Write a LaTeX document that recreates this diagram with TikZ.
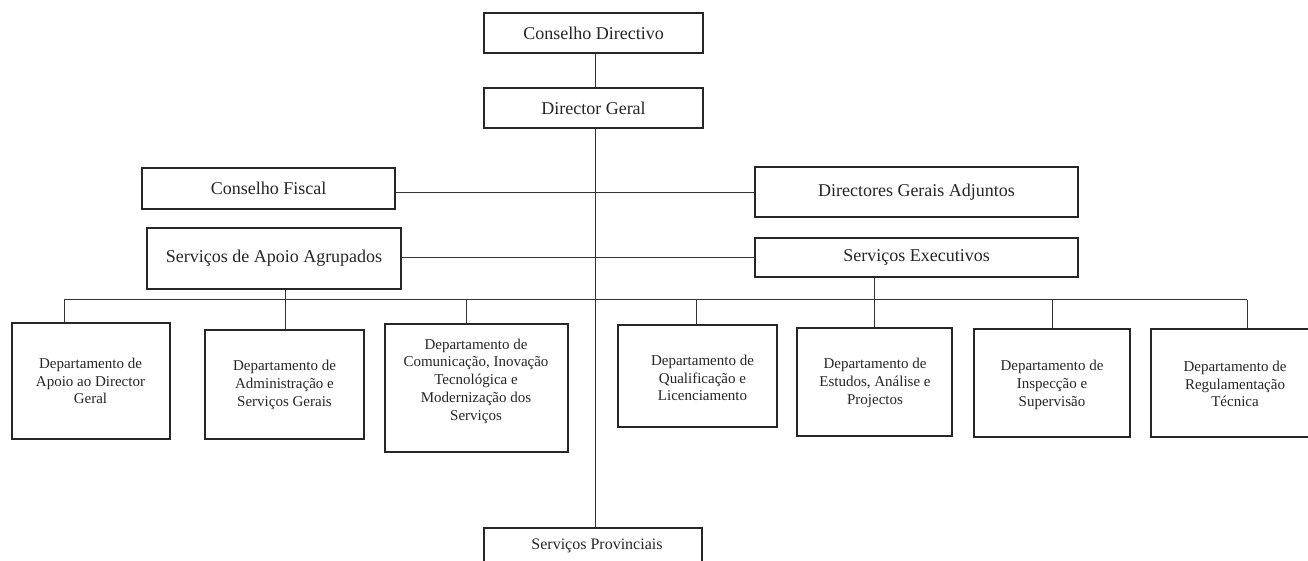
\documentclass[tikz,border=0pt]{standalone}
\usepackage{fontspec}
\setmainfont{Liberation Serif}
\begin{document}
\begin{tikzpicture}[x=1pt,y=-1pt,
  box/.style={draw=black!85, line width=1.2pt, inner sep=0pt, align=center, text=black!85},
  mainbox/.style={box, font=\fontsize{18}{21}\selectfont},
  deptbox/.style={box},
  dtxt/.style={align=center, inner sep=0pt, text=black!85, font=\fontsize{15}{17.8}\selectfont},
  conn/.style={draw=black!80, line width=0.7pt}]
\useasboundingbox (0,0) rectangle (1308,561);
\clip (0,0) rectangle (1308,561);
\fill[white] (0,0) rectangle (1308,561);

% main boxes
\node[mainbox, minimum width=219pt, minimum height=40pt] (cd) at (593.5,33) {Conselho Directivo};
\node[mainbox, minimum width=219pt, minimum height=40pt] (dg) at (593.5,108) {Director Geral};
\node[mainbox, minimum width=253pt, minimum height=41pt] (cf) at (268.5,188.5) {Conselho Fiscal};
\node[mainbox, minimum width=254pt, minimum height=61pt] (sa) at (274,258.5) {Serviços de Apoio Agrupados};
\node[mainbox, minimum width=323pt, minimum height=50pt] (dga) at (916.5,192) {Directores Gerais Adjuntos};
\node[mainbox, minimum width=323pt, minimum height=39pt] (se) at (916.5,257.5) {Serviços Executivos};

% department boxes
\node[deptbox, minimum width=158pt, minimum height=116pt] (d1) at (91,381) {};
\node[deptbox, minimum width=159pt, minimum height=109pt] (d2) at (284.5,384.5) {};
\node[deptbox, minimum width=183pt, minimum height=128pt] (d3) at (476.5,388) {};
\node[deptbox, minimum width=159pt, minimum height=102pt] (d4) at (697.5,376) {};
\node[deptbox, minimum width=155pt, minimum height=108pt] (d5) at (874.5,382) {};
\node[deptbox, minimum width=156pt, minimum height=108pt] (d6) at (1052,383) {};
\node[deptbox, minimum width=168pt, minimum height=108pt] (d7) at (1235,383) {};
\node[box, minimum width=218pt, minimum height=44pt, font=\fontsize{16}{19}\selectfont] (sp) at (593,550) {};

% department texts
\node[dtxt] (t1) at (90.5,381) {Departamento de\\Apoio ao Director\\Geral};
\node[dtxt] (t2) at (284.5,385) {Departamento de\\Administração e\\Serviços Gerais};
\node[dtxt] (t3) at (476,381) {Departamento de\\Comunicação, Inovação\\Tecnológica e\\Modernização dos\\Serviços};
\node[dtxt] (t4) at (702.5,378) {Departamento de\\Qualificação e\\Licenciamento};
\node[dtxt] (t5) at (875,383) {Departamento de\\Estudos, Análise e\\Projectos};
\node[dtxt] (t6) at (1052,385) {Departamento de\\Inspecção e\\Supervisão};
\node[dtxt] (t7) at (1235,384) {Departamento de\\Regulamentação\\Técnica};
\node[dtxt, font=\fontsize{16}{19}\selectfont] (tsp) at (597,546) {Serviços Provinciais};

% bus coordinates
\coordinate (busL) at (64,299.5);
\coordinate (busR) at (1247,299.5);

% connectors
\draw[conn] (cd.south -| 595,0) -- (dg.north -| 595,0);
\draw[conn] (dg.south -| 595,0) -- (sp.north -| 595,0);
\draw[conn] (cf.east |- dga.west) -- (dga.west);
\draw[conn] (sa.east |- se.west) -- (se.west);
\draw[conn] (busL) -- (busR);
\draw[conn] (busL) -- (busL |- d1.north);
\draw[conn] (sa.south -| 285,0) -- (d2.north -| 285,0);
\draw[conn] (busL -| 466,0) -- (d3.north -| 466,0);
\draw[conn] (busL -| 696,0) -- (d4.north -| 696,0);
\draw[conn] (se.south -| 874,0) -- (d5.north -| 874,0);
\draw[conn] (busL -| d6.north) -- (d6.north);
\draw[conn] (busR) -- (busR |- d7.north);
\end{tikzpicture}
\end{document}
